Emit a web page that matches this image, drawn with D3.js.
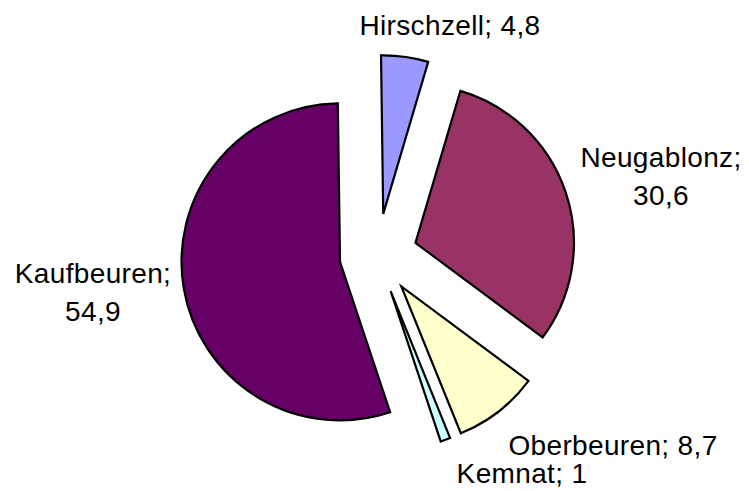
<!DOCTYPE html>
<html lang="de">
  <head>
    <meta charset="UTF-8" />
    <script src="https://cdn.jsdelivr.net/npm/d3@7"></script>
    <style>
      * {
        margin: 0;
        padding: 0;
      }
      body {
        background: #fff;
      }
      #chart text {
        font-family: 'Liberation Sans', Arial, sans-serif;
        font-size: 28px;
        letter-spacing: 0.35px;
        fill: #000;
      }
    </style>
    <title>Pie</title>
  </head>
  <body>
    <div id="chart"></div>
  </body>
  <script>
    // data
    const places = ['Hirschzell', 'Neugablonz', 'Oberbeuren', 'Kemnat', 'Kaufbeuren'];
    const shares = [4.8, 30.6, 8.7, 1, 54.9];

    const colorMap = {
      Hirschzell: '#9999ff',
      Neugablonz: '#993366',
      Oberbeuren: '#ffffcc',
      Kemnat: '#ccffff',
      Kaufbeuren: '#660066',
    };
    // how far each slice is pulled out
    const explode = {
      Hirschzell: 42,
      Neugablonz: 40,
      Oberbeuren: 39,
      Kemnat: 38,
      Kaufbeuren: 38,
    };
    // where the data labels sit (text centre / baseline of first line)
    const labelLayout = {
      Hirschzell: { x: 450, y: 35, split: false },
      Neugablonz: { x: 661, y: 167, split: true },
      Oberbeuren: { x: 613, y: 455, split: false },
      Kemnat: { x: 522, y: 483, split: false },
      Kaufbeuren: { x: 93, y: 283, split: true },
    };

    const width = 749;
    const height = 491;
    const cx = 377.5;
    const cy = 255.5;
    const radius = 158.5;
    const rot = (-0.8 * Math.PI) / 180;

    const de = d3.formatLocale({
      decimal: ',',
      thousands: '.',
      grouping: [3],
      currency: ['', ' €'],
    });
    const fmt = de.format('~g');

    const rows = places.map((p, i) => ({ place: p, value: shares[i] }));

    const pie = d3
      .pie()
      .sort(null)
      .value((d) => d.value)
      .startAngle(rot)
      .endAngle(rot + 2 * Math.PI);
    const arc = d3.arc().innerRadius(0).outerRadius(radius);

    const svg = d3
      .select('#chart')
      .append('svg')
      .attr('width', width)
      .attr('height', height);

    const pieLayer = svg.append('g').attr('transform', `translate(${cx},${cy})`);

    pieLayer
      .selectAll('path')
      .data(pie(rows))
      .join('path')
      .attr('transform', (d) => {
        const mid = (d.startAngle + d.endAngle) / 2;
        const off = explode[d.data.place];
        return `translate(${Math.sin(mid) * off},${-Math.cos(mid) * off})`;
      })
      .attr('d', arc)
      .attr('fill', (d) => colorMap[d.data.place])
      .attr('stroke', '#000')
      .attr('stroke-width', 2.2)
      .attr('stroke-linejoin', 'miter');

    // labels
    const labelLayer = svg.append('g');
    rows.forEach((r) => {
      const pos = labelLayout[r.place];
      const t = labelLayer
        .append('text')
        .attr('x', pos.x)
        .attr('y', pos.y)
        .attr('text-anchor', 'middle');
      if (pos.split) {
        t.append('tspan').attr('x', pos.x).text(r.place + ';');
        t.append('tspan')
          .attr('x', pos.x)
          .attr('dy', 38)
          .text(fmt(r.value));
      } else {
        t.text(`${r.place}; ${fmt(r.value)}`);
      }
    });
  </script>
</html>
